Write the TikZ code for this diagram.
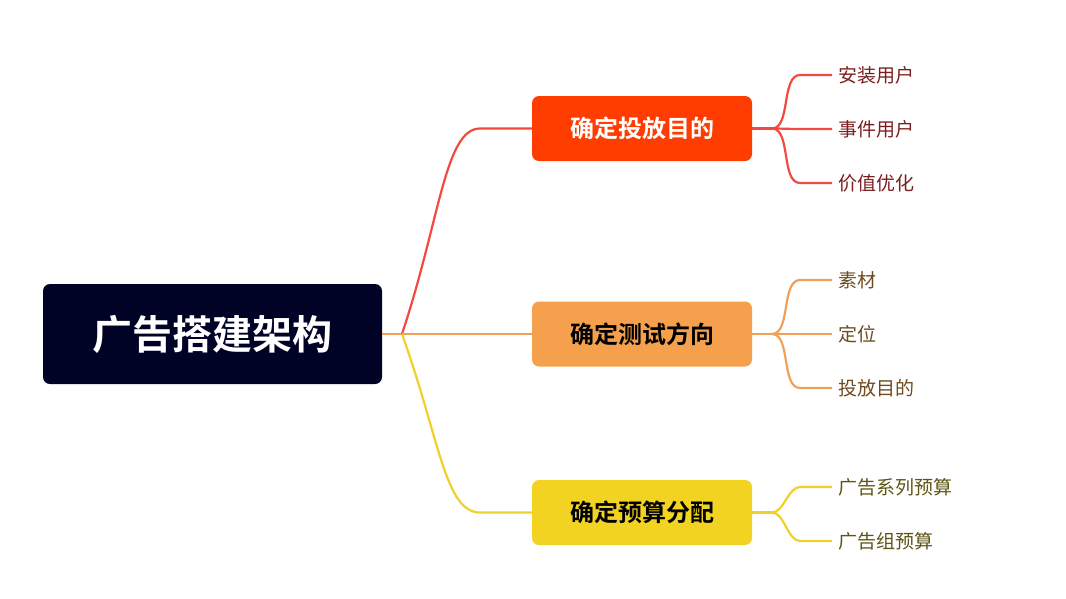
\documentclass[tikz,border=0pt]{standalone}
\usepackage{fontspec}
\newfontfamily\cjk{Noto Sans CJK SC}
\newfontfamily\cjkb{Noto Sans CJK SC Bold}
\definecolor{rootc}{HTML}{000226}
\definecolor{c1}{HTML}{FF3D00}
\definecolor{c2}{HTML}{F5A04C}
\definecolor{c3}{HTML}{F2D321}
\definecolor{l1}{HTML}{F24A40}
\definecolor{l2}{HTML}{F0A058}
\definecolor{l3}{HTML}{F0D02A}
\definecolor{t1}{HTML}{7A1E1E}
\definecolor{t2}{HTML}{6E4A1E}
\definecolor{t3}{HTML}{5E5414}
\begin{document}
\begin{tikzpicture}[x=1pt,y=-1pt,
 br/.style={rounded corners=7pt,minimum width=220pt,minimum height=65pt,font=\cjkb\fontsize{24}{24}\selectfont,inner sep=0},
 leaf/.style={anchor=west,font=\cjk\fontsize{19}{19}\selectfont,inner sep=0},
 ln/.style={line width=2.2pt}]
\useasboundingbox (0,0) rectangle (1066,598);
\node[fill=rootc,rounded corners=7pt,minimum width=339pt,minimum height=100pt,text=white,font=\cjkb\fontsize{40}{40}\selectfont] (root) at (212.5,334) {广告搭建架构};
\node[br,fill=c1,text=white] (b1) at (642,128.5) {确定投放目的};
\node[br,fill=c2,text=black] (b2) at (642,334) {确定测试方向};
\node[br,fill=c3,text=black] (b3) at (642,512.5) {确定预算分配};
\coordinate (h) at (402,334);
\draw[ln,l2] (root.east) -- (h);
\draw[ln,l1] (h) .. controls (440,220) and (445,128.5) .. (480,128.5) -- (b1.west);
\draw[ln,l2] (h) -- (b2.west);
\draw[ln,l3] (h) .. controls (440,440) and (445,512.5) .. (480,512.5) -- (b3.west);
\node[leaf,text=t1] (a1) at (838,75) {安装用户};
\node[leaf,text=t1] (a2) at (838,129) {事件用户};
\node[leaf,text=t1] (a3) at (838,183) {价值优化};
\node[leaf,text=t2] (m1) at (838,280) {素材};
\node[leaf,text=t2] (m2) at (838,334) {定位};
\node[leaf,text=t2] (m3) at (838,388) {投放目的};
\node[leaf,text=t3] (n1) at (838,487) {广告系列预算};
\node[leaf,text=t3] (n2) at (838,541) {广告组预算};
\coordinate (k1) at (772,128.5);
\coordinate (k2) at (772,334);
\coordinate (k3) at (772,512.5);
\draw[ln,l1] (b1.east) -- (k1);
\draw[ln,l2] (b2.east) -- (k2);
\draw[ln,l3] (b3.east) -- (k3);
\foreach \n in {a1,a2,a3}{\draw[ln,l1] (k1) to[out=0,in=180,looseness=0.8] ([xshift=-38pt]\n.west) -- ([xshift=-6pt]\n.west);}
\foreach \n in {m1,m2,m3}{\draw[ln,l2] (k2) to[out=0,in=180,looseness=0.8] ([xshift=-38pt]\n.west) -- ([xshift=-6pt]\n.west);}
\foreach \n in {n1,n2}{\draw[ln,l3] (k3) to[out=0,in=180,looseness=0.8] ([xshift=-38pt]\n.west) -- ([xshift=-6pt]\n.west);}
\end{tikzpicture}
\end{document}
